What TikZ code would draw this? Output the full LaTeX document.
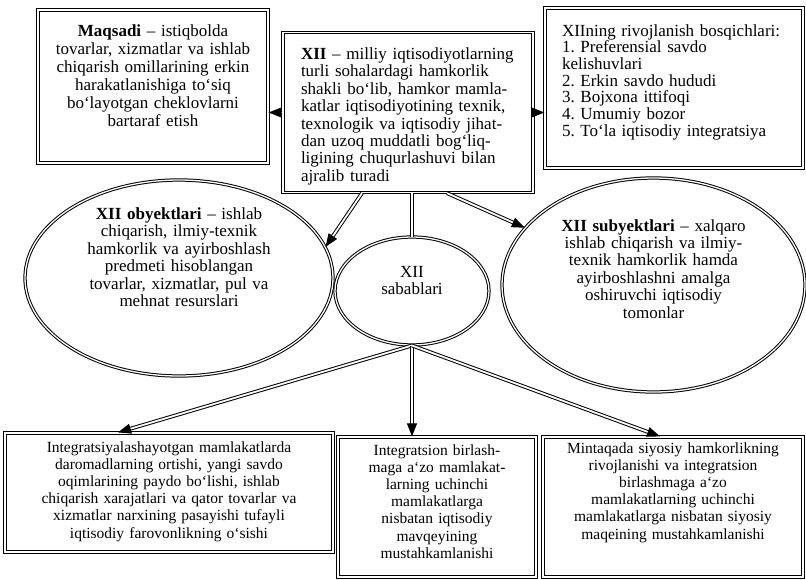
\documentclass[tikz,border=0pt]{standalone}
\usepackage{fontspec}
\setmainfont{Liberation Serif}
\usetikzlibrary{arrows.meta,shapes.geometric}
\frenchspacing

\tikzset{
  box/.style={draw, line width=1.2pt, double, double distance=1.5pt, inner sep=0pt,
    font=\fontsize{17}{17.4}\selectfont},
  lower/.style={box, align=center, font=\fontsize{15.5}{17.2}\selectfont},
  oval/.style={ellipse, draw, line width=1pt, double, double distance=1.3pt,
    inner sep=-4pt, align=center, text height=13pt, font=\fontsize{17}{17.4}\selectfont},
  wire/.style={line width=1pt, double, double distance=1.8pt},
  link/.style={wire, -{Triangle[length=13pt,width=10pt]}},
}

\begin{document}
\begin{tikzpicture}[x=1pt, y=-1pt]
  \useasboundingbox (0,0) rectangle (806,579);
  % top row
  \node[box, align=center, text width=220pt, text height=26pt, text depth=127pt,
    minimum width=230pt, minimum height=153pt, font=\fontsize{17}{18}\selectfont] (aim) at (153,86.5)
    {\textbf{Maqsadi} -- istiqbolda\\tovarlar, xizmatlar va ishlab\\chiqarish omillarining erkin\\harakatlanishiga to‘siq\\bo‘layotgan cheklovlarni\\bartaraf etish};
  \node[box, align=left, text width=214pt, text height=27pt, text depth=133pt,
    minimum width=250pt, minimum height=160pt] (xii) at (408,112.5)
    {\textbf{XII} -- milliy iqtisodiyotlarning\\turli sohalardagi hamkorlik\\shakli bo‘lib, hamkor mamla-\\katlar iqtisodiyotining texnik,\\texnologik va iqtisodiy jihat-\\dan uzoq muddatli bog‘liq-\\ligining chuqurlashuvi bilan\\ajralib turadi};
  \node[box, align=left, text width=224pt, text height=28pt, text depth=132pt,
    minimum width=258pt, minimum height=160pt, font=\fontsize{17}{16.7}\selectfont] (stage) at (674,88)
    {XIIning rivojlanish bosqichlari:\\1. Preferensial savdo\\kelishuvlari\\2. Erkin savdo hududi\\3. Bojxona ittifoqi\\4. Umumiy bozor\\5. To‘la iqtisodiy integratsiya};
  % ellipses
  \node[oval, text width=200pt, text depth=130pt, minimum width=308pt, minimum height=196pt] (obj) at (179,278)
    {\textbf{XII obyektlari} -- ishlab\\chiqarish, ilmiy-texnik\\hamkorlik va ayirboshlash\\predmeti hisoblangan\\tovarlar, xizmatlar, pul va\\mehnat resurslari};
  \node[oval, text width=80pt, text depth=41pt, minimum width=154pt, minimum height=108pt] (sab) at (412,291)
    {XII\\sabablari};
  \node[oval, text width=200pt, text depth=121pt, minimum width=303pt, minimum height=214pt] (sub) at (653.5,285)
    {\textbf{XII subyektlari} -- xalqaro\\ishlab chiqarish va ilmiy-\\texnik hamkorlik hamda\\ayirboshlashni amalga\\oshiruvchi iqtisodiy\\tomonlar};
  % bottom row
  \node[lower, text width=320pt, text height=19pt, text depth=100pt,
    minimum width=328pt, minimum height=119pt] (gain) at (169,492.5)
    {Integratsiyalashayotgan mamlakatlarda\\daromadlarning ortishi, yangi savdo\\oqimlarining paydo bo‘lishi, ishlab\\chiqarish xarajatlari va qator tovarlar va\\xizmatlar narxining pasayishi tufayli\\iqtisodiy farovonlikning o‘sishi};
  \node[lower, text width=190pt, text height=18pt, text depth=122pt,
    minimum width=198pt, minimum height=140pt] (pos) at (437,507)
    {Integratsion birlash-\\maga a‘zo mamlakat-\\larning uchinchi\\mamlakatlarga\\nisbatan iqtisodiy\\mavqeyining\\mustahkamlanishi};
  \node[lower, text width=250pt, text height=16pt, text depth=124pt,
    minimum width=260pt, minimum height=140pt] (pol) at (673,507)
    {Mintaqada siyosiy hamkorlikning\\rivojlanishi va integratsion\\birlashmaga a‘zo\\mamlakatlarning uchinchi\\mamlakatlarga nisbatan siyosiy\\maqeining mustahkamlanishi};

  % connectors
  \draw[link] (xii.west) -- (xii.west -| aim.east);
  \draw[link] (xii.east) -- (xii.east -| stage.west);
  \draw[link] ([xshift=-46pt]xii.south) -- (obj.12);
  \draw[wire] (sab.north |- xii.south) -- (sab.north);
  \draw[link] ([xshift=39pt]xii.south) -- (sub);
  \draw[link] (sab.south) -- ([xshift=-51pt]gain.north);
  \draw[link] (sab.south) -- (sab.south |- pos.north);
  \draw[link] (sab.south) -- ([xshift=-13pt]pol.north);
\end{tikzpicture}
\end{document}
